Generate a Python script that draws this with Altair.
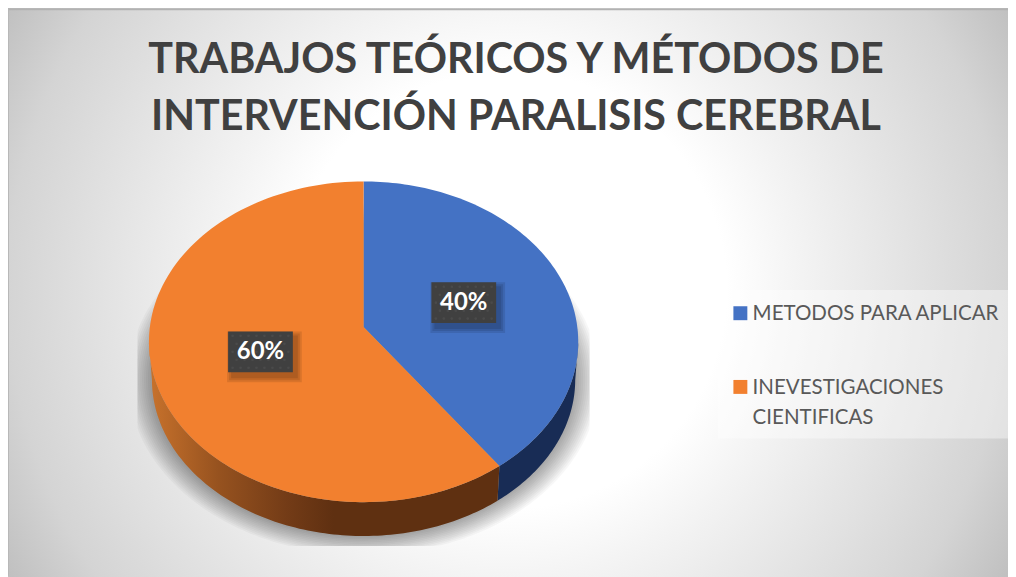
import numpy as np
import pandas as pd
import altair as alt

title_lines = ["TRABAJOS TEÓRICOS Y MÉTODOS DE", "INTERVENCIÓN PARALISIS CEREBRAL"]
categories = ["METODOS PARA APLICAR", "INEVESTIGACIONES CIENTIFICAS"]
shares = [0.40, 0.60]
colors = ["#4472C4", "#F2802F"]

W, H = 1004, 569
TILT = 0.093            # perspective shift of the pie's centre
RX, RY = 215.5, 161.0   # half axes of the pie's top, in pixels
xs = alt.Scale(domain=[-1, 1], range=[141.5, 572.5])
ys = alt.Scale(domain=[-1, 1], range=[495, 173])


def project(theta, r=1.0):
    """Clockwise-from-top angle on the pie -> tilted ellipse in unit coordinates."""
    x, y = r * np.sin(theta), r * np.cos(theta)
    d = 1 + TILT * y
    return x * np.sqrt(1 - TILT ** 2) / d, (y + TILT) / d


def lower(x, y):
    return x * 0.986, y * 0.975 - 0.236


rows, rims, labels = [], [], []
start = 0.0
for cat, share in zip(categories, shares):
    end = start + share * 2 * np.pi
    t = np.linspace(start, end, 120)
    px, py = project(t)
    ax, ay = project(0.0, 0.0)
    rows.append(pd.DataFrame({"cat": cat, "x": np.r_[ax, px], "y": np.r_[ay, py], "o": np.arange(len(t) + 1)}))
    lx, ly = project((start + end) / 2, 0.5)
    labels.append({"cat": cat, "share": share, "x": lx, "y": ly})
    # side wall: only the front half of the pie shows one
    a = np.linspace(max(start, 0.0), end, 200)
    qx, qy = project(a)
    keep = qy <= 0
    qx, qy = qx[keep], qy[keep]
    bx, by = lower(qx, qy)
    rims.append(pd.DataFrame({"x": np.r_[qx, bx[::-1]], "y": np.r_[qy, by[::-1]], "o": np.arange(2 * len(qx))}))
    start = end

wedges = pd.concat(rows)
labels = pd.DataFrame(labels)
one = pd.DataFrame({"a": [0]})

# soft cast shadow: stacked, slightly growing copies of the pie's foot
rings = []
a = np.linspace(0, 2 * np.pi, 240)
floor_y = -(547 - 8 - 334) / RY       # where the shadow is cut off below
side_x = (592 - 365) / RX             # ... and at the sides
for k, grow in enumerate(np.arange(0, 20, 1.6)):
    sx = (0.986 * RX + grow * 1.25) / RX * np.cos(a)
    sy = (0.975 * RY + grow) / RY * np.sin(a) - 0.236
    sy = np.maximum(sy, floor_y)
    sx = np.clip(sx, -side_x, side_x)
    rings.append(pd.DataFrame({"x": sx, "y": sy, "o": np.arange(len(a)), "ring": k}))
rings = pd.concat(rings)

# faint dot texture of the label boxes
dots = []
for _, row in labels.iterrows():
    for j, dy in enumerate(np.arange(-16, 17, 8)):
        for dx in np.arange(-28, 29, 8) + (4 if j % 2 else 0):
            if abs(dx) <= 30:
                dots.append({"x": row.x + dx / RX, "y": row.y - dy / RY})
dots = pd.DataFrame(dots)


def stop(o, c):
    return alt.GradientStop(offset=o, color=c)


background = alt.Chart(one).mark_rect(
    fill=alt.RadialGradient(
        gradient="radial", x1=0.5, y1=0.5, x2=0.5, y2=0.5, r1=0, r2=0.575,
        stops=[stop(0, "#ffffff"), stop(0.38, "#ffffff"), stop(0.5, "#f4f4f4"), stop(0.87, "#d4d4d4"), stop(1, "#c0c0c0")],
    ),
).encode(x=alt.value(0), x2=alt.value(W), y=alt.value(-220), y2=alt.value(784))

edge_top = alt.Chart(one).mark_rule(color="#b2b2b2", strokeWidth=2).encode(
    x=alt.value(0), x2=alt.value(W), y=alt.value(0)
)
edge_left = alt.Chart(one).mark_rule(color="#b8b8b8", strokeWidth=2).encode(
    x=alt.value(0), y=alt.value(0), y2=alt.value(H)
)

shadow = alt.Chart(rings).mark_line(
    interpolate="linear-closed", fill="#000000", fillOpacity=0.03, strokeOpacity=0
).encode(
    x=alt.X("x:Q", scale=xs, axis=None), y=alt.Y("y:Q", scale=ys, axis=None), order="o:Q", detail="ring:N"
)

rim_blue = alt.Chart(rims[0]).mark_line(
    interpolate="linear-closed", fill="#182C55", strokeOpacity=0
).encode(
    x=alt.X("x:Q", scale=xs, axis=None), y=alt.Y("y:Q", scale=ys, axis=None), order="o:Q"
)
rim_orange = alt.Chart(rims[1]).mark_line(
    interpolate="linear-closed", strokeOpacity=0,
    fill=alt.LinearGradient(
        gradient="linear", x1=0, y1=0, x2=1, y2=0,
        stops=[stop(0, "#C8722C"), stop(0.2, "#96521F"), stop(0.39, "#743C17"), stop(0.527, "#5F3011"), stop(1, "#5F3011")],
    ),
).encode(
    x=alt.X("x:Q", scale=xs, axis=None), y=alt.Y("y:Q", scale=ys, axis=None), order="o:Q"
)

top = alt.Chart(wedges).mark_line(interpolate="linear-closed", strokeOpacity=0).encode(
    x=alt.X("x:Q", scale=xs, axis=None),
    y=alt.Y("y:Q", scale=ys, axis=None),
    order="o:Q",
    fill=alt.Fill(
        "cat:N",
        scale=alt.Scale(domain=categories, range=colors),
        legend=alt.Legend(
            title=None, orient="none", legendX=725, legendY=295,
            symbolType="square", symbolSize=196, symbolStrokeWidth=0,
            labelFont="Lato", labelFontSize=20.6, labelColor="#595959",
            labelLimit=300, rowPadding=52, labelOffset=2,
            labelExpr="datum.label == 'INEVESTIGACIONES CIENTIFICAS' ? ['INEVESTIGACIONES','CIENTIFICAS'] : datum.label",
            labelBaseline="alphabetic",
        ),
    ),
)

panel = alt.Chart(one).mark_rect(fill="#ffffff", opacity=0.4).encode(
    x=alt.value(713), x2=alt.value(W), y=alt.value(282), y2=alt.value(431)
)

lx = alt.X("x:Q", scale=xs, axis=None)
ly = alt.Y("y:Q", scale=ys, axis=None)
lab_shadows = [
    alt.Chart(labels).mark_rect(width=65 + g, height=41 + g, fill="#000000", opacity=0.1, xOffset=4, yOffset=5).encode(x=lx, y=ly)
    for g in (10, 6, 2)
]
lab_box = alt.Chart(labels).mark_rect(width=65, height=41, fill="#404040").encode(x=lx, y=ly)
lab_dots = alt.Chart(dots).mark_point(filled=True, size=7, color="#5a5a5a", opacity=0.4).encode(x=lx, y=ly)
lab_text = alt.Chart(labels).mark_text(
    font="Lato", fontWeight="bold", fontSize=24, color="#ffffff", baseline="middle"
).encode(x=lx, y=ly, text=alt.Text("share:Q", format=".0%"))

chart = alt.layer(
    background, edge_top, edge_left, panel, shadow, rim_blue, rim_orange, top,
    *lab_shadows, lab_box, lab_dots, lab_text
).properties(
    width=W, height=H,
    padding=0,
    autosize=alt.AutoSizeParams(type="none"),
    title=alt.TitleParams(
        text=title_lines, font="Lato", fontWeight="bold", fontSize=41.4, color="#404040",
        anchor="middle", lineHeight=57, dy=354, dx=8,
    ),
).configure_view(stroke=None).configure(
    background="#ffffff",
    style={"guide-label": {"lineHeight": 30, "dy": 7}},
)

chart.save("out.html", embed_options={"renderer": "svg", "actions": False})
